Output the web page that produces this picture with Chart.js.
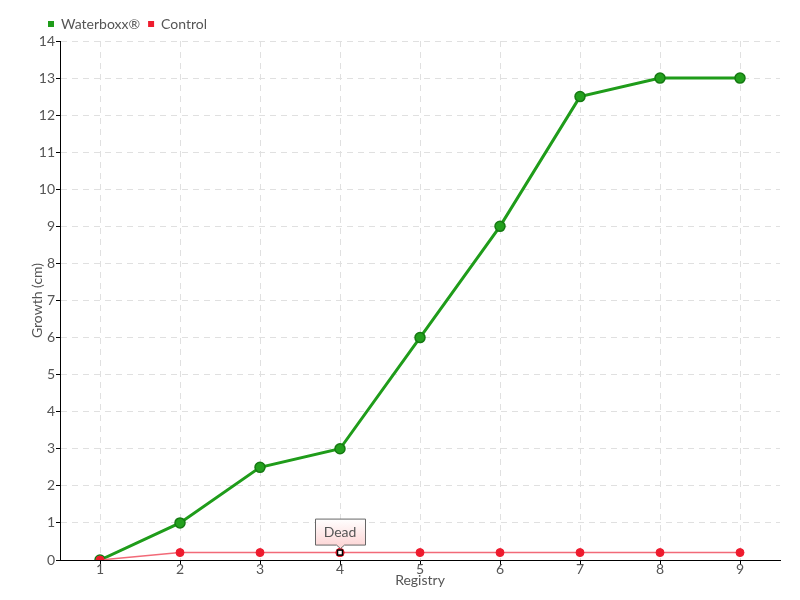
<!DOCTYPE html>
<html><head><meta charset="utf-8">
<script src="https://cdn.jsdelivr.net/npm/chart.js@4"></script>
<style>html,body{margin:0;padding:0;background:#fff}#w{width:800px;height:600px}</style>
</head><body><div id="w"><canvas id="c" width="800" height="600"></canvas></div>
<script>
const categories = ['1','2','3','4','5','6','7','8','9'];
const waterboxx = [0, 1, 2.5, 3, 6, 9, 12.5, 13, 13];
const control = [0, 0.2, 0.2, 0.2, 0.2, 0.2, 0.2, 0.2, 0.2];
const annotationIndex = 3;
const annotationText = 'Dead';
const FONT = "Lato, 'Open Sans', sans-serif";
const TXT = '#555';

const deadPlugin = {
  id: 'dead',
  afterLayout(chart) {
    if (chart.legend) { chart.legend.left = 40; }
  },
  afterDatasetsDraw(chart) {
    const ctx = chart.ctx;
    const x = chart.scales.x.getPixelForValue(annotationIndex);
    const y = chart.scales.y.getPixelForValue(control[annotationIndex]);
    // red ring + white square marker
    ctx.save();
    ctx.beginPath(); ctx.arc(x, y, 4.5, 0, Math.PI * 2); ctx.fillStyle = '#ee1c2e'; ctx.fill();
    ctx.fillStyle = '#fff'; ctx.strokeStyle = '#000'; ctx.lineWidth = 1.5;
    ctx.fillRect(x - 2.5, y - 2.5, 5, 5); ctx.strokeRect(x - 2.5, y - 2.5, 5, 5);
    const w = 50, h = 26, bx = x - 25, by = y - 34;
    const g = ctx.createLinearGradient(0, by, 0, by + h);
    g.addColorStop(0, '#ffffff'); g.addColorStop(1, '#fdd8d8');
    ctx.beginPath();
    ctx.moveTo(bx + 0.5, by + 0.5); ctx.lineTo(bx + w + 0.5, by + 0.5); ctx.lineTo(bx + w + 0.5, by + h + 0.5);
    ctx.lineTo(x + 4.5, by + h + 0.5); ctx.lineTo(x + 0.5, y - 4); ctx.lineTo(x - 3.5, by + h + 0.5);
    ctx.lineTo(bx + 0.5, by + h + 0.5); ctx.closePath();
    ctx.fillStyle = g; ctx.fill();
    ctx.strokeStyle = '#666'; ctx.lineWidth = 1; ctx.stroke();
    ctx.fillStyle = TXT; ctx.font = "14px " + FONT;
    ctx.textAlign = 'center'; ctx.textBaseline = 'middle';
    ctx.fillText(annotationText, x, by + h / 2 + 1);
    ctx.restore();
  }
};

new Chart(document.getElementById('c'), {
  type: 'line',
  data: {
    labels: categories,
    datasets: [
      {
        label: 'Waterboxx®', data: waterboxx,
        borderColor: '#1f9c1a', backgroundColor: '#1f9c1a', borderWidth: 3,
        pointRadius: 5, pointBackgroundColor: '#23a01d', pointBorderColor: '#157a12', pointBorderWidth: 1.5,
        tension: 0, order: 2
      },
      {
        label: 'Control', data: control,
        borderColor: '#f26a78', backgroundColor: '#ee1c2e', borderWidth: 1.5,
        pointRadius: 4,
        pointBackgroundColor: '#ee1c2e', pointBorderColor: '#ee1c2e', pointBorderWidth: 1,
        tension: 0, order: 1
      }
    ]
  },
  options: {
    responsive: false, animation: false,
    layout: { padding: { left: 0, right: 20, top: 9, bottom: 0 } },
    plugins: {
      tooltip: { enabled: false },
      legend: {
        align: 'start',
        labels: { boxWidth: 6, boxHeight: 6, padding: 8, color: TXT, font: { family: FONT, size: 14 },
          generateLabels(chart) {
            return chart.data.datasets.map((d, i) => ({ text: d.label, fillStyle: d.backgroundColor, strokeStyle: d.backgroundColor, lineWidth: 0, datasetIndex: i, fontColor: TXT }));
          } }
      }
    },
    scales: {
      x: {
        offset: true,
        grid: { offset: false, color: '#e0e0e0', tickColor: '#000', tickLength: 5 },
        border: { color: '#000', width: 1, dash: [6, 5] },
        ticks: { color: TXT, font: { family: FONT, size: 14 }, padding: -4 },
        title: { display: true, text: 'Registry', color: TXT, font: { family: FONT, size: 14 }, padding: { top: 0, bottom: 11 } },
        afterFit(s) { s.height = 40; }
      },
      y: {
        min: 0, max: 14,
        grid: { color: '#e0e0e0', tickColor: '#000', tickLength: 4 },
        border: { color: '#000', width: 1, dash: [6, 5] },
        ticks: { stepSize: 1, color: TXT, font: { family: FONT, size: 14 }, padding: 1 },
        title: { display: true, text: 'Growth (cm)', color: TXT, font: { family: FONT, size: 14 }, padding: { top: 29, bottom: 0 } },
        afterFit(s) { s.width = 60; }
      }
    }
  },
  plugins: [deadPlugin]
});
</script></body></html>
